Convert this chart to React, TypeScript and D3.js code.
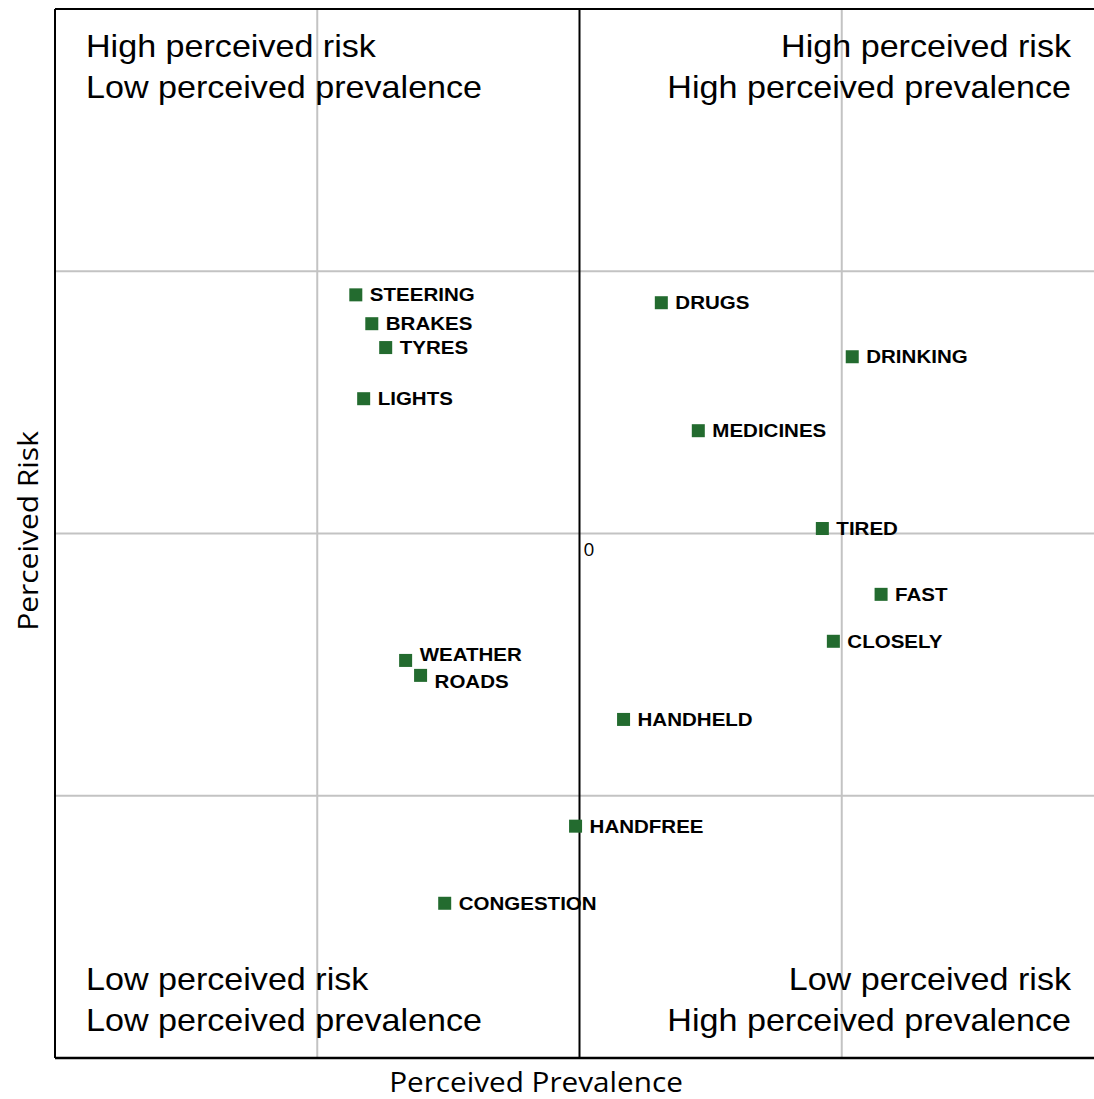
import React from "react";
import * as d3 from "d3";

const labels = ["STEERING", "BRAKES", "TYRES", "LIGHTS", "DRUGS", "DRINKING", "MEDICINES", "TIRED", "FAST", "CLOSELY", "WEATHER", "ROADS", "HANDHELD", "HANDFREE", "CONGESTION"];
const prevalence = [-0.853, -0.792, -0.739, -0.823, 0.312, 1.04, 0.453, 0.926, 1.15, 0.968, -0.663, -0.606, 0.168, -0.015, -0.514];
const risk = [0.91, 0.8, 0.709, 0.514, 0.88, 0.674, 0.392, 0.019, -0.232, -0.411, -0.484, -0.541, -0.709, -1.116, -1.41];
const gridTicks = [-1, 0, 1];
const quadrantText = [
  ["High perceived risk", "Low perceived prevalence"],
  ["High perceived risk", "High perceived prevalence"],
  ["Low perceived risk", "Low perceived prevalence"],
  ["Low perceived risk", "High perceived prevalence"],
];

export default function App() {
  const W = 1094, H = 1099;
  const left = 55, top = 9, bottom = 1058;
  const unit = (bottom - top) / 4;
  const x = d3.scaleLinear().domain([-2, 2]).range([left, left + unit * 4]);
  const y = d3.scaleLinear().domain([-2, 2]).range([bottom, top]);
  const ms = 13;
  const green = "#236b2f";
  const arial = "Liberation Sans, Arial, sans-serif";
  const axisFont = "Open Sans, Noto Sans, sans-serif";
  const data = labels.map((l, i) => ({ l, px: prevalence[i], r: risk[i] }));
  const labelDy = (l: string) => (l === "WEATHER" ? -6 : l === "ROADS" ? 6 : 0);

  return (
    <svg width={W} height={H} style={{ position: "absolute", left: 0, top: 0, background: "#fff" }}>
      {gridTicks.map((t) => (
        <line key={"h" + t} x1={left} x2={W} y1={y(t)} y2={y(t)} stroke="#c3c3c3" strokeWidth={2} />
      ))}
      {gridTicks.filter((t) => t !== 0).map((t) => (
        <line key={"v" + t} x1={x(t)} x2={x(t)} y1={top} y2={bottom} stroke="#c3c3c3" strokeWidth={2} />
      ))}
      <line x1={x(0)} x2={x(0)} y1={top} y2={bottom} stroke="#000" strokeWidth={2} />
      <line x1={left} x2={W} y1={top} y2={top} stroke="#000" strokeWidth={2} />
      <line x1={left} x2={W} y1={bottom} y2={bottom} stroke="#000" strokeWidth={2.5} />
      <line x1={left} x2={left} y1={top} y2={bottom} stroke="#000" strokeWidth={2} />
      <text x={x(0) + 4} y={y(0) + 22} fontFamily={axisFont} fontSize={19} fill="#000">0</text>

      {quadrantText.map((lines, qi) => {
        const isRight = qi % 2 === 1;
        const isBottom = qi >= 2;
        const tx = isRight ? 1071 : 86;
        const by = isBottom ? 990 : 57;
        return lines.map((s, li) => (
          <text key={qi + "-" + li} transform={`translate(${tx},${by + li * 41}) scale(1.1,1)`} textAnchor={isRight ? "end" : "start"} fontFamily={arial} fontSize={31} fill="#000">{s}</text>
        ));
      })}

      {data.map((d) => (
        <g key={d.l}>
          <rect x={x(d.px) - ms / 2} y={y(d.r) - ms / 2} width={ms} height={ms} fill={green} />
          <text transform={`translate(${x(d.px) + 14},${y(d.r) + labelDy(d.l)}) scale(1.14,1)`} dy="0.36em" fontFamily={arial} fontWeight="bold" fontSize={18} fill="#000">{d.l}</text>
        </g>
      ))}

      <text transform="translate(536,1092) scale(1.08,1)" textAnchor="middle" fontFamily={axisFont} fontSize={27.5} fill="#000">Perceived Prevalence</text>
      <text transform={`translate(38, ${531}) rotate(-90) scale(1.07,1)`} textAnchor="middle" fontFamily={axisFont} fontSize={28} fill="#000">Perceived Risk</text>
    </svg>
  );
}
